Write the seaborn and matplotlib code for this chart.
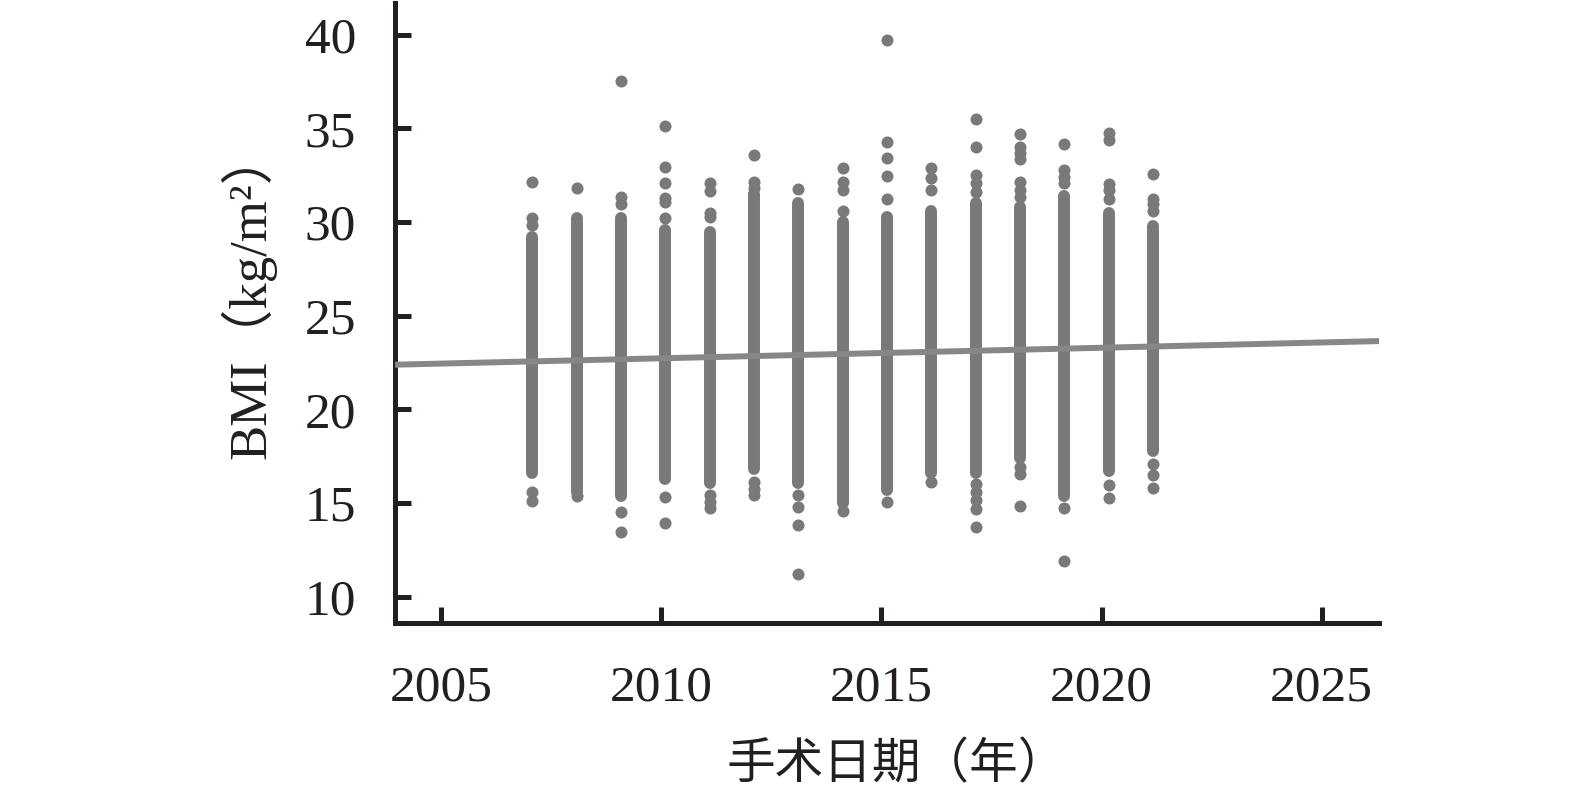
import pandas as pd
import seaborn as sns
import matplotlib.pyplot as plt

# column positions (decimal year of surgery)
col_x = [2007.07, 2008.08, 2009.08, 2010.09, 2011.10, 2012.10, 2013.11, 2014.12,
         2015.13, 2016.13, 2017.14, 2018.14, 2019.15, 2020.17, 2021.17]

# solid part of each column (dots overlap completely)
band_lo = [16.6, 15.6, 15.4, 16.3, 16.1, 16.8, 16.1, 15.0, 15.7, 16.6, 16.6, 17.4, 15.4, 16.7, 17.8]
band_hi = [29.2, 30.2, 30.2, 29.6, 29.5, 31.5, 31.0, 30.0, 30.3, 30.6, 31.0, 30.8, 31.4, 30.5, 29.8]

# separate dots above / below the solid part
high_dots = [
    [32.14, 30.2, 29.84],
    [31.84],
    [37.54, 31.35, 30.96],
    [35.12, 32.96, 32.1, 31.27, 31.05, 30.2],
    [32.07, 31.67, 30.5, 30.29],
    [33.57, 32.12, 31.8],
    [31.75],
    [32.9, 32.16, 31.71, 30.59],
    [39.73, 34.26, 33.4, 32.48, 31.23],
    [32.9, 32.33, 31.71],
    [35.51, 34.01, 32.51, 32.07, 31.62],
    [34.72, 34.03, 33.67, 33.35, 32.16, 31.71, 31.35],
    [34.17, 32.78, 32.42, 32.07],
    [34.78, 34.39, 32.03, 31.71, 31.23],
    [32.57, 31.23, 30.96, 30.6],
]
low_dots = [
    [15.58, 15.13],
    [15.4],
    [14.51, 13.44],
    [15.35, 13.92],
    [15.44, 15.08, 14.74],
    [16.11, 15.76, 15.45],
    [15.44, 14.78, 13.85, 11.21],
    [14.6],
    [15.04],
    [16.11],
    [16.03, 15.58, 15.17, 14.69, 13.71],
    [16.91, 16.56, 14.87],
    [14.72, 11.89],
    [15.97, 15.28],
    [17.1, 16.51, 15.79],
]

# fitted trend line at the ends of the x axis
trend_x = [2003.95, 2026.3]
trend_y = [22.39, 23.65]

xticks = [2005, 2010, 2015, 2020, 2025]
yticks = [10, 15, 20, 25, 30, 35, 40]

rows = []
for x, hi, lo in zip(col_x, high_dots, low_dots):
    for v in hi + lo:
        rows.append({'date': x, 'bmi': v})
dots = pd.DataFrame(rows)
trend = pd.DataFrame({'date': trend_x, 'bmi': trend_y})

sns.set_style('ticks')
plt.rcParams['font.family'] = ['Liberation Serif', 'Noto Sans CJK SC']

dot_color = '#7a7879'
line_color = '#878787'
ink = '#231f20'

fig = plt.figure(figsize=(15.75, 8.01), dpi=100)
ax = fig.add_axes([0.2508, 0.2222, 0.6247, 0.7741])

ax.vlines(col_x, band_lo, band_hi, colors=dot_color, linewidth=8.6, capstyle='round', zorder=2)
sns.scatterplot(data=dots, x='date', y='bmi', color=dot_color, s=75, linewidth=0, ax=ax, zorder=2)
sns.lineplot(data=trend, x='date', y='bmi', color=line_color, linewidth=4.3, ax=ax, zorder=3)

ax.set_xlim(2003.95, 2026.3)
ax.set_ylim(8.6, 41.7)
ax.set_xticks(xticks)
ax.set_yticks(yticks)

for side in ['top', 'right']:
    ax.spines[side].set_visible(False)
for side in ['left', 'bottom']:
    ax.spines[side].set_linewidth(3.6)
    ax.spines[side].set_color(ink)

ax.tick_params(axis='both', direction='in', length=11.5, width=3.6, color=ink,
               labelsize=37, labelcolor=ink)
ax.tick_params(axis='x', pad=30)
ax.tick_params(axis='y', pad=28)

ax.set_xlabel('手术日期（年）', fontsize=35, color=ink, labelpad=22)
ax.set_ylabel('BMI（kg/m²）', fontsize=38, color=ink, labelpad=20)
# the fullwidth brackets carry blank space, nudge labels to centre visually
ax.xaxis.label.set_x(0.51)
ax.yaxis.label.set_y(0.53)

plt.savefig('out.png', dpi=100)
